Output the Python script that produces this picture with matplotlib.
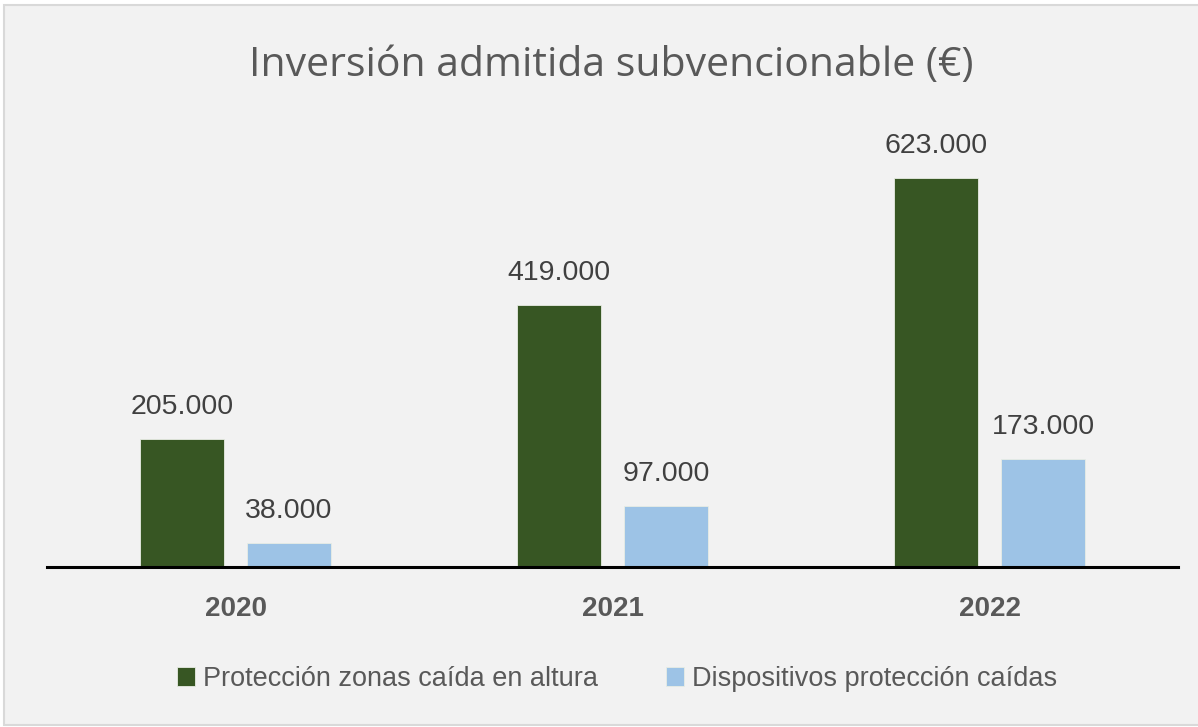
import matplotlib.pyplot as plt
from matplotlib.patches import Rectangle
import numpy as np

years = ['2020', '2021', '2022']
serie_zonas = [205000, 419000, 623000]
serie_dispositivos = [38000, 97000, 173000]
nombres = ['Protección zonas caída en altura', 'Dispositivos protección caídas']
colores = ['#375623', '#9DC3E6']

plt.rcParams['font.family'] = ['Liberation Sans', 'DejaVu Sans']

W, H = 1198, 727
fig = plt.figure(figsize=(W / 100, H / 100), dpi=100, facecolor='white')
# fondo del grafico con borde gris claro
fig.patches.append(Rectangle((4 / W, 1 - 725 / H), 1.0, (725 - 5) / H,
                             transform=fig.transFigure, facecolor='#F2F2F2',
                             edgecolor='#D9D9D9', linewidth=1.5, zorder=-5))

ax = fig.add_axes([47 / W, 1 - 567 / H, 1131 / W, (567 - 130) / H])
ax.set_facecolor('none')
ax.set_zorder(2)

x = np.arange(len(years))
ancho = 0.223
desp = 0.142

def fmt(v):
    return f'{v:,}'.replace(',', '.')

for vals, off, col, nom in [(serie_zonas, -desp, colores[0], nombres[0]),
                            (serie_dispositivos, desp, colores[1], nombres[1])]:
    barras = ax.bar(x + off, vals, ancho, color=col, edgecolor='#E8EDE4',
                    linewidth=0.6, label=nom, zorder=2)
    for b, v in zip(barras, vals):
        ax.annotate(fmt(v), (b.get_x() + b.get_width() / 2, v),
                    xytext=(0, 14), textcoords='offset points',
                    ha='center', va='bottom', fontsize=20.5, color='#404040')

ax.set_xlim(-0.5, 2.5)
ax.set_ylim(0, 700000)
ax.set_yticks([])
ax.set_xticks(x)
ax.set_xticklabels(years, fontsize=20, fontweight='bold', color='#595959')
ax.tick_params(axis='x', length=0, pad=21)
for s in ['top', 'right', 'left']:
    ax.spines[s].set_visible(False)
ax.spines['bottom'].set_color('black')
ax.spines['bottom'].set_linewidth(2.2)
ax.spines['bottom'].set_zorder(3)

fig.text(611 / W, 1 - 66 / H, 'Inversión admitida subvencionable (€)',
         ha='center', va='center', fontsize=29.5, color='#595959',
         family=['Open Sans', 'DejaVu Sans'])

fig.legend(loc='center', bbox_to_anchor=(617 / W, 1 - 679 / H), ncol=2,
           frameon=False, fontsize=19.5, labelcolor='#595959',
           handlelength=0.67, handleheight=0.67, handletextpad=0.3,
           columnspacing=2.5, borderpad=0)

fig.savefig('out.png', dpi=100, facecolor=fig.get_facecolor())
